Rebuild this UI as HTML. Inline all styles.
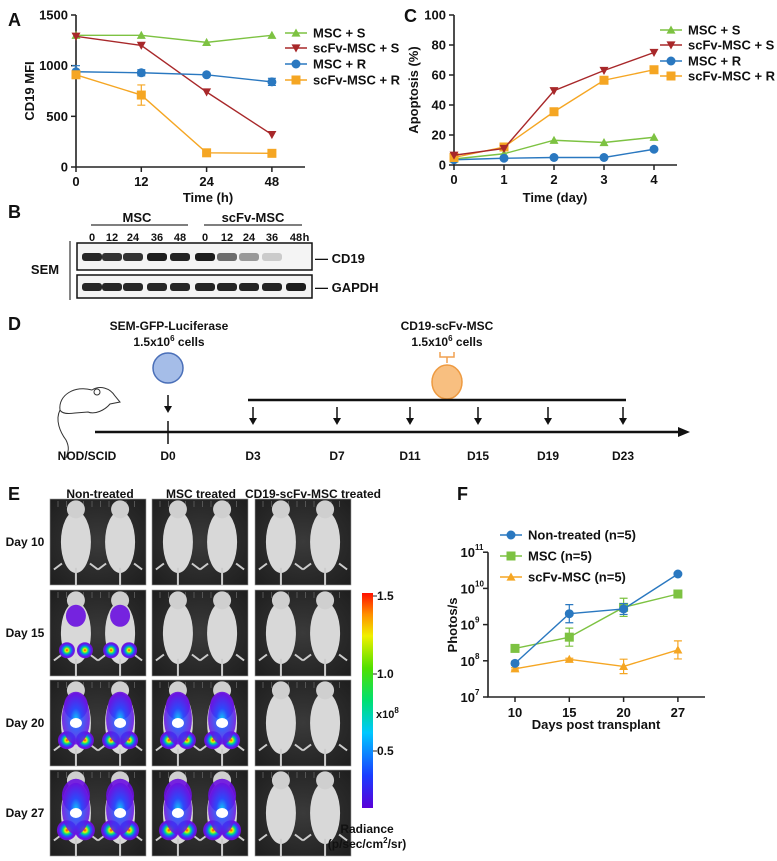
<!DOCTYPE html>
<html><head><meta charset="utf-8"><style>
body{margin:0;background:#fff}
svg{display:block;font-family:"Liberation Sans",Arial,sans-serif;font-weight:bold}
</style></head><body>
<svg id="s" width="777" height="861" viewBox="0 0 777 861" xmlns="http://www.w3.org/2000/svg">
<defs>
<linearGradient id="cbar" x1="0" y1="1" x2="0" y2="0">
<stop offset="0" stop-color="#5a00d8"/><stop offset="0.15" stop-color="#1a3cff"/><stop offset="0.35" stop-color="#00c8ff"/><stop offset="0.5" stop-color="#00e070"/><stop offset="0.65" stop-color="#50e000"/><stop offset="0.8" stop-color="#f0f000"/><stop offset="0.9" stop-color="#ff9000"/><stop offset="1" stop-color="#ff1000"/></linearGradient>
<radialGradient id="bgimg" cx="0.5" cy="0.5" r="0.7"><stop offset="0" stop-color="#3a3a3a"/><stop offset="1" stop-color="#1e1e1e"/></radialGradient>
<radialGradient id="blob" cx="0.5" cy="0.5" r="0.5"><stop offset="0" stop-color="#ff3000"/><stop offset="0.2" stop-color="#f0f000"/><stop offset="0.4" stop-color="#00e080"/><stop offset="0.6" stop-color="#1a5cff"/><stop offset="0.85" stop-color="#6a10e0"/><stop offset="1" stop-color="#7010e0" stop-opacity="0.9"/></radialGradient>
<radialGradient id="blob2" cx="0.5" cy="0.5" r="0.5"><stop offset="0" stop-color="#00e0ff"/><stop offset="0.4" stop-color="#2050ff"/><stop offset="1" stop-color="#6a10e0"/></radialGradient>
</defs>
<g id="root"></g>
</svg>
<script>
// ===== Panel A data =====
const aCats = ["0","12","24","48"];
const aYTicks = [0,500,1000,1500];
const aMscS = [1300,1300,1230,1300];
const aScfvS = [1290,1200,740,320];
const aMscR = [940,930,910,840];
const aScfvR = [910,710,140,135];
const aErrScfvR = [30,100,15,15];
const aErrMscR = [60,30,15,35];
// ===== Panel C data =====
const cCats = ["0","1","2","3","4"];
const cYTicks = [0,20,40,60,80,100];
const cMscS = [4,7.5,16.5,15,18.5];
const cScfvS = [6.5,11,49.5,63,75];
const cMscR = [3.5,4.5,5,5,10.5];
const cScfvR = [5,12,35.5,56.5,63.5];
// ===== Panel F data =====
const fCats = ["10","15","20","27"];
const fNon = [8.5e7,2e9,2.7e9,2.5e10];
const fNonErr = [0.05,0.25,0.15,0.03];
const fMsc = [2.2e8,4.5e8,3e9,7e9];
const fMscErr = [0.03,0.25,0.25,0.08];
const fScfv = [6e7,1.1e8,7e7,2e8];
const fScfvErr = [0.03,0.03,0.2,0.25];
const fExps = [7,8,9,10,11];
// ===== Blot data (band intensity) =====
const blotLanes = ["0","12","24","36","48","0","12","24","36","48"];
const cd19Int = [0.9,0.85,0.85,0.95,0.92,0.95,0.6,0.4,0.18,0];
const gapdhInt = [0.9,0.9,0.9,0.9,0.9,0.92,0.92,0.92,0.92,0.95];

const NS="http://www.w3.org/2000/svg";
const root=document.getElementById('root');
function el(tag,attrs,parent,text){const e=document.createElementNS(NS,tag);for(const k in attrs)e.setAttribute(k,attrs[k]);if(text!==undefined)e.textContent=text;(parent||root).appendChild(e);return e;}
function txt(x,y,s,size,anchor,name,parent){const t=el('text',{x:x,y:y,'font-size':size,'text-anchor':anchor||'start',fill:'#111'},parent,s);


return t;}
function marker(g,shape,x,y,c,sz){sz=sz||4.5;let m;
if(shape==='up')m=el('polygon',{points:`${x},${y-sz} ${x-sz},${y+sz*0.8} ${x+sz},${y+sz*0.8}`,fill:c},g);
else if(shape==='down')m=el('polygon',{points:`${x},${y+sz} ${x-sz},${y-sz*0.8} ${x+sz},${y-sz*0.8}`,fill:c},g);
else if(shape==='circle')m=el('circle',{cx:x,cy:y,r:sz,fill:c},g);
else m=el('rect',{x:x-sz,y:y-sz,width:sz*2,height:sz*2,fill:c},g);


return m;}
function series(g,xs,ys,c,shape,name,errs){const sg=el('g',{},g);


el('polyline',{points:xs.map((x,i)=>x+','+ys[i]).join(' '),fill:'none',stroke:c,'stroke-width':1.4},sg);
if(errs)errs.forEach((e,i)=>{if(!e)return;el('path',{d:`M${xs[i]} ${e[0]}V${e[1]}M${xs[i]-4} ${e[0]}h8M${xs[i]-4} ${e[1]}h8`,stroke:c,'stroke-width':1.2,fill:'none'},sg);});
xs.forEach((x,i)=>marker(sg,shape,x,ys[i],c));return sg;}
function legend(g,x,y,c,shape,label,name){const lg=el('g',{},g);


el('line',{x1:x-11,y1:y,x2:x+11,y2:y,stroke:c,'stroke-width':1.4},lg);marker(lg,shape,x,y,c);txt(x+17,y+4.5,label,13,'start','legend-label',lg);}
const G='#7dc242',R='#a8282a',B='#2a78c0',O='#f5a623';

// ===== Panel A =====
(function(){const g=el('g',{});


const x0=76,xStep=65.3,yB=167,yT=15;const ys=v=>yB-(v/1500)*(yB-yT);const xs=aCats.map((c,i)=>x0+i*xStep);
txt(8,26,'A',18,'start','panel-a-label',g);
el('path',{d:`M${x0} ${yT}V${yB}H305`,stroke:'#222','stroke-width':1.6,fill:'none'},g);
aYTicks.forEach(v=>{el('line',{x1:x0-5,y1:ys(v),x2:x0,y2:ys(v),stroke:'#222','stroke-width':1.5},g);txt(x0-8,ys(v)+4.5,String(v),13,'end','y-tick',g);});
aCats.forEach((c,i)=>{el('line',{x1:xs[i],y1:yB,x2:xs[i],y2:yB+5,stroke:'#222','stroke-width':1.5},g);txt(xs[i],yB+19,c,13,'middle','x-tick',g);});
txt(208,202,'Time (h)',13,'middle','x-axis-title',g);
const yl=txt(0,0,'CD19 MFI',13,'middle','y-axis-title',g);yl.setAttribute('transform','translate(34,91) rotate(-90)');
series(g,xs,aMscS.map(ys),G,'up','series-msc-s');
series(g,xs,aScfvS.map(ys),R,'down','series-scfv-msc-s');
series(g,xs,aMscR.map(ys),B,'circle','series-msc-r',aMscR.map((v,i)=>[ys(v+aErrMscR[i]),ys(v-aErrMscR[i])]));
series(g,xs,aScfvR.map(ys),O,'square','series-scfv-msc-r',aScfvR.map((v,i)=>[ys(v+aErrScfvR[i]),ys(v-aErrScfvR[i])]));
legend(g,296,33,G,'up','MSC + S','legend-msc-s');legend(g,296,48,R,'down','scFv-MSC + S','legend-scfv-msc-s');
legend(g,296,64,B,'circle','MSC + R','legend-msc-r');legend(g,296,80,O,'square','scFv-MSC + R','legend-scfv-msc-r');
})();

// ===== Panel C =====
(function(){const g=el('g',{});


const x0=454,xStep=50,yB=165,yT=15;const ys=v=>yB-(v/100)*(yB-yT);const xs=cCats.map((c,i)=>x0+i*xStep);
txt(404,22,'C',18,'start','panel-c-label',g);
el('path',{d:`M${x0} ${yT}V${yB}H677`,stroke:'#222','stroke-width':1.6,fill:'none'},g);
cYTicks.forEach(v=>{el('line',{x1:x0-5,y1:ys(v),x2:x0,y2:ys(v),stroke:'#222','stroke-width':1.5},g);txt(x0-8,ys(v)+4.5,String(v),13,'end','y-tick',g);});
cCats.forEach((c,i)=>{el('line',{x1:xs[i],y1:yB,x2:xs[i],y2:yB+5,stroke:'#222','stroke-width':1.5},g);txt(xs[i],yB+19,c,13,'middle','x-tick',g);});
txt(555,202,'Time (day)',13,'middle','x-axis-title',g);
const yl=txt(0,0,'Apoptosis (%)',13,'middle','y-axis-title',g);yl.setAttribute('transform','translate(418,90) rotate(-90)');
series(g,xs,cMscS.map(ys),G,'up','series-msc-s');
series(g,xs,cMscR.map(ys),B,'circle','series-msc-r');
series(g,xs,cScfvR.map(ys),O,'square','series-scfv-msc-r');
series(g,xs,cScfvS.map(ys),R,'down','series-scfv-msc-s');
legend(g,671,30,G,'up','MSC + S','legend-msc-s');legend(g,671,45,R,'down','scFv-MSC + S','legend-scfv-msc-s');
legend(g,671,61,B,'circle','MSC + R','legend-msc-r');legend(g,671,76,O,'square','scFv-MSC + R','legend-scfv-msc-r');
})();

// ===== Panel B (western blot) =====
(function(){const g=el('g',{});


txt(8,218,'B',18,'start','panel-b-label',g);
txt(137,222,'MSC',13,'middle','msc-group-label',g);el('line',{x1:91,y1:225,x2:188,y2:225,stroke:'#333','stroke-width':1.2},g);
txt(253,222,'scFv-MSC',13,'middle','scfv-group-label',g);el('line',{x1:204,y1:225,x2:302,y2:225,stroke:'#333','stroke-width':1.2},g);
const lx=[92,112,133,157,180,205,227,249,272,296];
blotLanes.forEach((l,i)=>txt(lx[i],241,l,11,'middle','lane-label',g));txt(306,241,'h',11,'middle','hours-unit',g);
el('rect',{x:77,y:243,width:235,height:27,fill:'#f4f4f4',stroke:'#111','stroke-width':1.5},g);
el('rect',{x:77,y:275,width:235,height:23,fill:'#f4f4f4',stroke:'#111','stroke-width':1.5},g);
cd19Int.forEach((v,i)=>{if(v<=0)return;const b=el('rect',{x:lx[i]-10,y:253,width:20,height:8,rx:3,fill:'#111','fill-opacity':v},g);

});
gapdhInt.forEach((v,i)=>{const b=el('rect',{x:lx[i]-10,y:283,width:20,height:8,rx:3,fill:'#111','fill-opacity':v},g);

});
txt(315,263,'— CD19',13,'start','cd19-label',g);txt(315,292,'— GAPDH',13,'start','gapdh-label',g);
txt(45,274,'SEM',13,'middle','sem-label',g);el('line',{x1:70,y1:241,x2:70,y2:300,stroke:'#333','stroke-width':1.2},g);
})();

// ===== Panel D (schematic) =====
(function(){const g=el('g',{});


txt(8,330,'D',18,'start','panel-d-label',g);
txt(169,330,'SEM-GFP-Luciferase',12,'middle','sem-injection-label',g);
const t1=txt(169,346,'1.5x10',12,'middle','sem-cell-count',g);el('tspan',{dy:-5,'font-size':8},t1,'6');el('tspan',{dy:5},t1,' cells');
el('circle',{cx:168,cy:368,r:15,fill:'#a5bde8',stroke:'#4a6fb8','stroke-width':1.5},g);
txt(447,330,'CD19-scFv-MSC',12,'middle','msc-injection-label',g);
const t2=txt(447,346,'1.5x10',12,'middle','msc-cell-count',g);el('tspan',{dy:-5,'font-size':8},t2,'6');el('tspan',{dy:5},t2,' cells');
el('path',{d:'M447 363V357M440 352V357H454V352',stroke:'#f0a050','stroke-width':1.5,fill:'none'},g);
el('ellipse',{cx:447,cy:382,rx:15,ry:17,fill:'#f8bf80',stroke:'#ee9a40','stroke-width':1.5},g);
const m=el('g',{fill:'#fff',stroke:'#333','stroke-width':1},g);


el('path',{d:'M60 410 C58 395 75 385 92 390 C100 385 110 388 115 396 L120 402 L110 404 C105 410 95 415 88 412 L75 413 C68 414 62 414 60 410Z'},m);
el('path',{d:'M60 410 C55 420 60 432 66 440 C70 448 68 452 66 458',fill:'none'},m);
el('circle',{cx:97,cy:392,r:3},m);
el('path',{d:'M168 395V408',stroke:'#111','stroke-width':1.5},g);el('polygon',{points:'164,406 172,406 168,413',fill:'#111'},g);
el('line',{x1:248,y1:400,x2:626,y2:400,stroke:'#111','stroke-width':2.5},g);
const dx=[253,337,410,478,548,623];const dl=['D3','D7','D11','D15','D19','D23'];
dx.forEach((x,i)=>{el('path',{d:`M${x} 407V420`,stroke:'#111','stroke-width':1.5},g);el('polygon',{points:`${x-4},418 ${x+4},418 ${x},425`,fill:'#111'},g);txt(x,460,dl[i],12,'middle','day-label',g);});
el('line',{x1:95,y1:432,x2:680,y2:432,stroke:'#111','stroke-width':2.5},g);el('polygon',{points:'678,427 690,432 678,437',fill:'#111'},g);
el('line',{x1:168,y1:421,x2:168,y2:444,stroke:'#111','stroke-width':1.5},g);
txt(87,460,'NOD/SCID',12,'middle','mouse-strain-label',g);txt(168,460,'D0',12,'middle','day-label',g);
})();

// ===== Panel E (imaging) =====
(function(){const g=el('g',{});


txt(8,500,'E',18,'start','panel-e-label',g);
txt(100,498,'Non-treated',12,'middle','col-non-treated',g);txt(201,498,'MSC treated',12,'middle','col-msc-treated',g);txt(313,498,'CD19-scFv-MSC treated',12,'middle','col-scfv-treated',g);
const cols=[50,152,255],cw=96,rows=[499,590,680,770],rh=86,days=['Day 10','Day 15','Day 20','Day 27'];
const sig=[[0,0,0],[1,0,0],[2,2,0],[3,3,0]];
rows.forEach((ry,ri)=>{txt(25,ry+rh/2+4,days[ri],12,'middle','row-day-label',g);
cols.forEach((cx,ci)=>{const im=el('g',{},g);


el('rect',{x:cx,y:ry,width:cw,height:rh,fill:'url(#bgimg)',stroke:'#999','stroke-width':0.6},im);
for(let k=0;k<10;k++)el('line',{x1:cx+8+k*8.5,y1:ry+2,x2:cx+8+k*8.5,y2:ry+8,stroke:'#555','stroke-width':1},im);
[0.27,0.73].forEach(f=>{const mx=cx+cw*f;
el('ellipse',{cx:mx,cy:ry+rh*0.5,rx:15,ry:rh*0.36,fill:'#d8d8d8'},im);
el('ellipse',{cx:mx,cy:ry+rh*0.12,rx:9,ry:9,fill:'#cfcfcf'},im);
el('line',{x1:mx,y1:ry+rh*0.8,x2:mx,y2:ry+rh,stroke:'#ccc','stroke-width':2},im);
el('path',{d:`M${mx-14} ${ry+rh*0.75}l-8 6M${mx+14} ${ry+rh*0.75}l8 6`,stroke:'#ccc','stroke-width':2},im);
const s=sig[ri][ci];
if(s>=1){el('ellipse',{cx:mx,cy:ry+rh*0.3,rx:8+s*2,ry:8+s*3,fill:'#6a10e0','fill-opacity':0.9},im);
el('ellipse',{cx:mx-9,cy:ry+rh*0.7,rx:7+s,ry:7+s,fill:'url(#blob)'},im);el('ellipse',{cx:mx+9,cy:ry+rh*0.7,rx:7+s,ry:7+s,fill:'url(#blob)'},im);}
if(s>=2){el('ellipse',{cx:mx,cy:ry+rh*0.45,rx:14,ry:rh*0.3,fill:'url(#blob2)','fill-opacity':0.85},im);el('ellipse',{cx:mx,cy:ry+rh*0.5,rx:6,ry:5,fill:'#fff'},im);}
});});});
el('rect',{x:362,y:593,width:11,height:215,fill:'url(#cbar)'},g);
[[600,'1.5'],[678,'1.0'],[755,'0.5']].forEach(t=>{el('line',{x1:373,y1:t[0]-4,x2:377,y2:t[0]-4,stroke:'#222'},g);txt(377,t[0],t[1],12,'start','colorbar-tick',g);});
const xe=txt(376,718,'x10',11,'start','colorbar-scale',g);el('tspan',{dy:-5,'font-size':8},xe,'8');
txt(367,833,'Radiance',12,'middle','colorbar-title',g);
const pr=txt(367,848,'(p/sec/cm',12,'middle','colorbar-unit',g);el('tspan',{dy:-5,'font-size':8},pr,'2');el('tspan',{dy:5},pr,'/sr)');
})();

// ===== Panel F =====
(function(){const g=el('g',{});


const x0=488,yB=697,dec=36.2;const ys=v=>yB-(Math.log10(v)-7)*dec;const xs=fCats.map((c,i)=>515+i*54.3);
txt(457,500,'F',18,'start','panel-f-label',g);
el('path',{d:`M${x0} ${yB-4*dec}V${yB}H705`,stroke:'#222','stroke-width':1.6,fill:'none'},g);
fExps.forEach(e=>{const y=yB-(e-7)*dec;el('line',{x1:x0-5,y1:y,x2:x0,y2:y,stroke:'#222','stroke-width':1.5},g);
const t=txt(x0-13,y+5,'10',13,'end','y-tick',g);const sp=el('tspan',{x:x0-13,dy:-7,'font-size':8,'text-anchor':'start'},t,String(e));});
fCats.forEach((c,i)=>{el('line',{x1:xs[i],y1:yB,x2:xs[i],y2:yB+5,stroke:'#222','stroke-width':1.5},g);txt(xs[i],yB+20,c,13,'middle','x-tick',g);});
txt(596,729,'Days post transplant',13,'middle','x-axis-title',g);
const yl=txt(0,0,'Photos/s',13,'middle','y-axis-title',g);yl.setAttribute('transform','translate(457,625) rotate(-90)');
const eb=(arr,err)=>arr.map((v,i)=>{const y=ys(v),d=err[i]*dec;return [y-d,y+d];});
series(g,xs,fScfv.map(ys),O,'up','series-scfv-msc',eb(fScfv,fScfvErr));
series(g,xs,fMsc.map(ys),G,'square','series-msc',eb(fMsc,fMscErr));
series(g,xs,fNon.map(ys),B,'circle','series-non-treated',eb(fNon,fNonErr));
legend(g,511,535,B,'circle','Non-treated (n=5)','legend-non-treated');legend(g,511,556,G,'square','MSC (n=5)','legend-msc');legend(g,511,577,O,'up','scFv-MSC (n=5)','legend-scfv-msc');
})();
</script>
</body></html>
